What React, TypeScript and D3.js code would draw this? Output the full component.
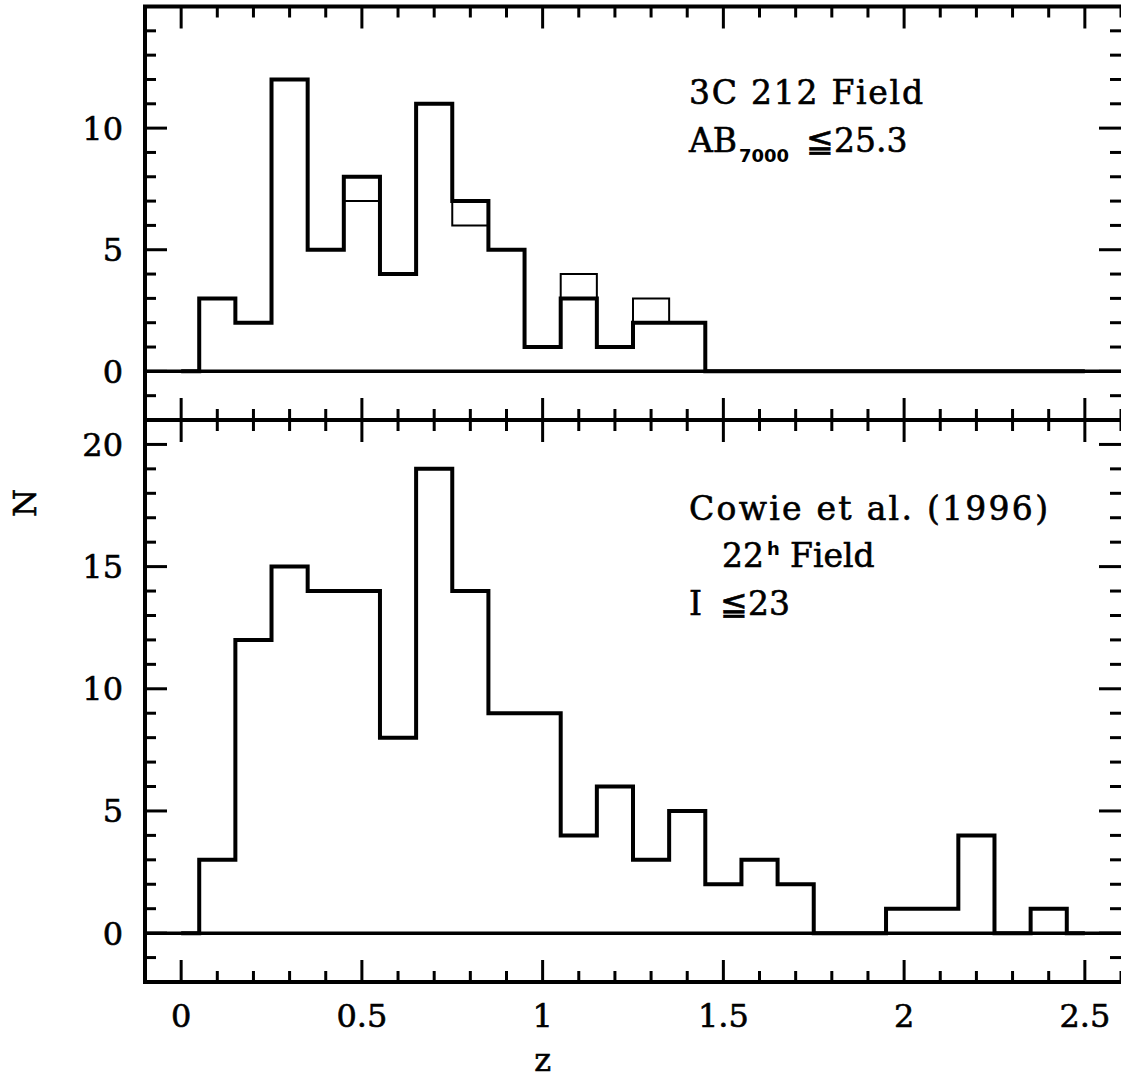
import React, { useRef, useEffect } from 'react';
import * as d3 from 'd3';

// bin centres (z) shared by both histograms
const zBins = [0, 0.1, 0.2, 0.3, 0.4, 0.5, 0.6, 0.7, 0.8, 0.9, 1.0, 1.1, 1.2, 1.3, 1.4, 1.5, 1.6, 1.7, 1.8, 1.9, 2.0, 2.1, 2.2, 2.3, 2.4, 2.5];

// 3C 212 field, AB7000 <= 25.3 (thick) and the alternative counts (thin)
const field3c212 = [0, 3, 2, 12, 5, 8, 4, 11, 7, 5, 1, 3, 1, 2, 2, 0, 0, 0, 0, 0, 0, 0, 0, 0, 0, 0];
const field3c212Thin = [0, 3, 2, 12, 5, 7, 4, 11, 6, 5, 1, 4, 1, 3, 2, 0, 0, 0, 0, 0, 0, 0, 0, 0, 0, 0];

// Cowie et al. (1996) 22h field, I <= 23
const cowie22h = [0, 3, 12, 15, 14, 14, 8, 19, 14, 9, 9, 4, 6, 3, 5, 2, 3, 2, 0, 0, 1, 1, 4, 0, 1, 0];

const xTickLabels = ['0', '0.5', '1', '1.5', '2', '2.5'];
const topYLabels = ['0', '5', '10'];
const bottomYLabels = ['0', '5', '10', '15', '20'];

const FONT = "'DejaVu Serif', serif";

export default function App() {
  const ref = useRef<SVGSVGElement>(null);

  useEffect(() => {
    const svg = d3.select(ref.current);
    svg.selectAll('*').remove();

    const left = 145;
    const right = 1121;
    const minorLen = 11;
    const majorLen = 22;

    const x = d3.scaleLinear().domain([-0.1, 2.6]).range([left, right]);

    const panels = [
      { top: 6.5, bottom: 420, domain: [-2, 15], labels: topYLabels, thin: [field3c212Thin], thick: field3c212 },
      { top: 420, bottom: 982, domain: [-2, 21], labels: bottomYLabels, thin: [], thick: cowie22h },
    ];

    const xMinor = d3.range(-1, 27).map(i => i / 10);

    const serif = (sel: any, size = 32) =>
      sel.style('font-family', FONT)
        .style('font-size', `${size}px`)
        .attr('fill', 'black')
        .attr('stroke', 'black')
        .attr('stroke-width', 0.6);

    panels.forEach((p, pi) => {
      const y = d3.scaleLinear().domain(p.domain).range([p.bottom, p.top]);
      const g = svg.append('g');

      // zero line
      g.append('line')
        .attr('x1', left).attr('x2', right)
        .attr('y1', y(0)).attr('y2', y(0))
        .attr('stroke', 'black').attr('stroke-width', 3.5);

      const hist = (counts: number[]) =>
        d3.line<number>()
          .x((_, i) => x(zBins[i]))
          .y(d => y(d))
          .curve(d3.curveStep)(counts);

      p.thin.forEach(s => {
        g.append('path').attr('d', hist(s))
          .attr('fill', 'none').attr('stroke', 'black').attr('stroke-width', 2);
      });
      g.append('path').attr('d', hist(p.thick))
        .attr('fill', 'none').attr('stroke', 'black').attr('stroke-width', 4)
        .attr('stroke-linejoin', 'miter');

      // x ticks, top and bottom of panel, pointing in
      xMinor.forEach(v => {
        const major = Math.abs(v * 2 - Math.round(v * 2)) < 1e-6;
        const len = major ? majorLen : minorLen;
        g.append('line')
          .attr('x1', x(v)).attr('x2', x(v))
          .attr('y1', p.bottom).attr('y2', p.bottom - len)
          .attr('stroke', 'black').attr('stroke-width', 3);
        g.append('line')
          .attr('x1', x(v)).attr('x2', x(v))
          .attr('y1', p.top).attr('y2', p.top + len)
          .attr('stroke', 'black').attr('stroke-width', 3);
      });

      // y ticks left and right
      d3.range(p.domain[0], p.domain[1] + 1).forEach(v => {
        const len = v % 5 === 0 ? majorLen : minorLen;
        g.append('line')
          .attr('x1', left).attr('x2', left + len)
          .attr('y1', y(v)).attr('y2', y(v))
          .attr('stroke', 'black').attr('stroke-width', 3);
        g.append('line')
          .attr('x1', right).attr('x2', right - len)
          .attr('y1', y(v)).attr('y2', y(v))
          .attr('stroke', 'black').attr('stroke-width', 3);
      });

      // frame
      g.append('path')
        .attr('d', `M${right},${p.top}H${left}V${p.bottom}H${right}`)
        .attr('fill', 'none').attr('stroke', 'black').attr('stroke-width', 4)
        .attr('stroke-linecap', 'square');

      // y tick labels
      serif(g.selectAll('text.ylab')
        .data(p.labels)
        .enter().append('text')
        .attr('x', 123)
        .attr('y', d => y(+d))
        .attr('dy', '0.36em')
        .attr('text-anchor', 'end')
        .text(d => d));

      if (pi === 1) {
        serif(g.selectAll('text.xlab')
          .data(xTickLabels)
          .enter().append('text')
          .attr('x', d => x(+d))
          .attr('y', 1027)
          .attr('text-anchor', 'middle')
          .text(d => d));
      }
    });

    // axis labels
    serif(svg.append('text')
      .attr('transform', 'translate(36,503) rotate(-90)')
      .attr('text-anchor', 'middle')
      .text('N'));
    serif(svg.append('text')
      .attr('x', x(1)).attr('y', 1071)
      .attr('text-anchor', 'middle')
      .text('z'));

    const note = (tx: number, ty: number, s: string) =>
      serif(svg.append('text').attr('x', tx).attr('y', ty).text(s), 33);
    const small = (tx: number, ty: number, s: string) =>
      svg.append('text')
        .attr('x', tx).attr('y', ty)
        .style('font-family', "'DejaVu Sans', sans-serif")
        .style('font-weight', 'bold')
        .style('font-size', '18px')
        .text(s);

    // top panel annotation
    note(689, 104, '3C 212 Field').attr('textLength', 234).attr('lengthAdjust', 'spacing');
    note(689, 152, 'AB');
    small(739, 162, '7000');
    note(806, 152, '≦25.3');

    // bottom panel annotation
    note(689, 520, 'Cowie et al. (1996)').attr('textLength', 359).attr('lengthAdjust', 'spacing');
    note(722, 567, '22');
    small(767, 555, 'h');
    note(790, 567, 'Field');
    note(689, 615, 'I');
    note(720, 615, '≦23');
  }, []);

  return (
    <svg
      ref={ref}
      width={1121}
      height={1080}
      style={{ position: 'absolute', left: 0, top: 0, background: 'white' }}
    />
  );
}
